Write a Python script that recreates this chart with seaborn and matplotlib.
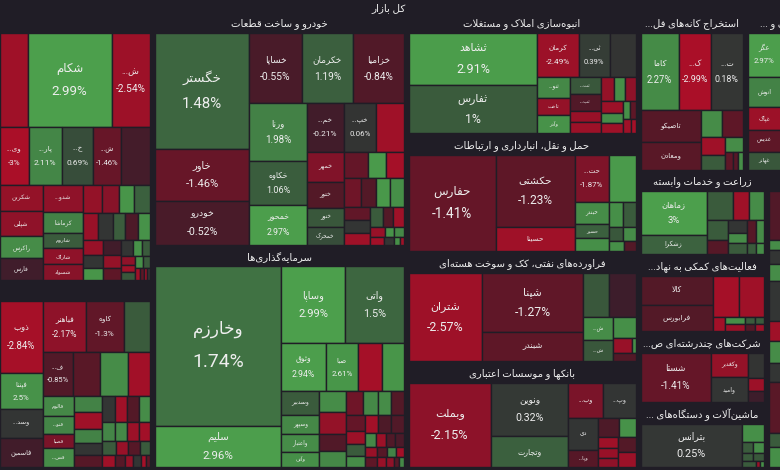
import matplotlib
matplotlib.use("Agg")
import matplotlib.pyplot as plt
from matplotlib.patches import Rectangle
from matplotlib.colors import LinearSegmentedColormap
import numpy as np
import seaborn as sns

BG = "#201d26"
TXT = "#eeeeee"

ROOT_TITLE = "کل بازار"

# sector names, the title as shown on the chart, and the weight of each sector
sectors = ["محصولات شیمیایی", "فلزات اساسی", "خودرو و ساخت قطعات", "سرمایه‌گذاری‌ها",
           "انبوه‌سازی املاک و مستغلات", "حمل و نقل، انبارداری و ارتباطات",
           "فراورده‌های نفتی، کک و سوخت هسته‌ای", "بانکها و موسسات اعتباری",
           "استخراج کانه‌های فلزی", "محصولات غذایی و آشامیدنی", "زراعت و خدمات وابسته",
           "فعالیت‌های کمکی به نهادهای مالی", "شرکت‌های چندرشته‌ای صنعتی",
           "ماشین‌آلات و دستگاه‌های برقی", "سایر"]
sector_titles = ["", "", "خودرو و ساخت قطعات", "سرمایه‌گذاری‌ها",
                 "انبوه‌سازی املاک و مستغلات", "حمل و نقل، انبارداری و ارتباطات",
                 "فراورده‌های نفتی، کک و سوخت هسته‌ای", "بانکها و موسسات اعتباری",
                 "استخراج کانه‌های فل...", "محصولات غذایی و ...", "زراعت و خدمات وابسته",
                 "فعالیت‌های کمکی به نهاد...", "شرکت‌های چندرشته‌ای ص...",
                 "ماشین‌آلات و دستگاه‌های ...", ""]
sector_values = [41752, 29079, 59192, 56277, 28188, 27376, 25520, 24592,
                 16906, 6083, 10816, 9856, 9088, 8320, 5206]

# stocks of every sector, in squarify strips: (strip direction, [(symbol, change %, weight)])
chem_rows = [
    ("h", [("", -2.6, 2576), ("شکام", 2.99, 7636), ("ش...", -2.54, 3496)]),
    ("h", [("وی...", -3.0, 1653), ("پار...", 2.11, 1881), ("خ...", 0.69, 1767),
           ("ش...", -1.46, 1596), ("", -0.35, 1653)]),
    ("v", [("شکربن", -2.3, 1092), ("شپلی", -2.2, 1050), ("راکرس", 2.3, 924), ("فارس", -0.15, 924)]),
    ("v", [("شدو...", -2.2, 1026), ("کرماشا", 2.0, 798), ("شاروم", 1.0, 608),
           ("شاراک", -2.2, 608), ("شسواد", -2.0, 608)]),
    ("h", [("", -2.3, 520), ("", -2.0, 442), ("", 2.6, 416), ("", 1.2, 416)]),
    ("h", [("", -2.4, 405), ("", 0.1, 405), ("", 1.1, 324), ("", -0.7, 351), ("", 2.5, 324)]),
    ("v", [("", -2.4, 285), ("", 0.1, 266), ("", 2.6, 228)]),
    ("v", [("", -0.2, 255), ("", -2.3, 238), ("", -1.2, 204)]),
    ("h", [("", 0.1, 182), ("", 2.5, 140), ("", 1.0, 126)]),
    ("v", [("", -2.2, 108), ("", -2.6, 100), ("", 0.9, 100)]),
    ("h", [("", 2.4, 90), ("", 1.0, 80)]),
    ("h", [("", -2.6, 60), ("", -1.2, 50), ("", -2.8, 40), ("", 0.1, 30)]),
]
metal_rows = [
    ("v", [("ذوب", -2.84, 2982), ("فپنتا", 2.5, 1512), ("وسد...", 0.1, 1176), ("فاسمین", -0.2, 1218)]),
    ("h", [("فباهنر", -2.17, 2107), ("کاوه", -1.3, 1813), ("", 1.0, 1274)]),
    ("h", [("ف...", -0.85, 1290), ("", -1.1, 1161), ("", 2.3, 1161), ("", -2.7, 946)]),
    ("v", [("فالوم", 2.2, 600), ("فنو...", 2.1, 510), ("فصبا", -1.8, 420), ("فس...", 2.3, 570)]),
    ("v", [("", 2.0, 432), ("", -2.6, 459), ("", 2.0, 405), ("", 0.1, 324), ("", -1.0, 324)]),
    ("h", [("", 0.1, 325), ("", -2.6, 300), ("", -0.9, 300), ("", 2.3, 275)]),
    ("h", [("", 2.1, 234), ("", 2.2, 216), ("", -2.5, 216), ("", -2.7, 198)]),
    ("h", [("", 1.0, 182), ("", -2.4, 168), ("", -1.0, 150), ("", 1.0, 140)]),
    ("h", [("", -2.6, 150), ("", -1.0, 120), ("", -2.3, 100), ("", 0.1, 90), ("", -2.8, 60), ("", -1.2, 50)]),
]
auto_rows = [
    ("v", [("خگستر", 1.48, 10810), ("خاور", -1.46, 4888), ("خودرو", -0.52, 4136)]),
    ("h", [("خساپا", -0.55, 3640), ("خکرمان", 1.19, 3570), ("خزامیا", -0.84, 3500)]),
    ("v", [("ورنا", 1.98, 3306), ("خکاوه", 1.06, 2508), ("خمحور", 2.97, 2280)]),
    ("h", [("خم...", -0.21, 1813), ("خپ...", 0.06, 1568), ("", -2.6, 1323)]),
    ("v", [("خمهر", -1.9, 1110), ("ختور", -0.9, 962), ("خنور", 0.9, 703), ("خمحرک", 0.7, 666)]),
    ("h", [("", -1.4, 624), ("", 2.8, 468), ("", -2.8, 442)]),
    ("h", [("", -1.6, 493), ("", -0.9, 435), ("", 2.7, 406), ("", 2.4, 377)]),
    ("v", [("", -1.3, 338), ("", 0.1, 338), ("", -2.6, 312)]),
    ("h", [("", 1.0, 260), ("", -0.9, 200), ("", -2.6, 200)]),
    ("h", [("", -2.4, 150), ("", 2.5, 90), ("", 2.2, 90)]),
    ("h", [("", -2.7, 120), ("", 0.1, 80), ("", 2.4, 50), ("", -2.6, 30)]),
]
invest_rows = [
    ("v", [("وخارزم", 1.74, 19300), ("سلیم", 2.96, 5000)]),
    ("h", [("وساپا", 2.99, 4662), ("واتی", 1.5, 4292)]),
    ("h", [("وثوق", 2.94, 2068), ("صبا", 2.61, 1504), ("", -2.8, 1128), ("", 2.6, 987)]),
    ("v", [("وسدبیر", 1.0, 864), ("وسپهر", 2.2, 684), ("واعتبار", 2.3, 684), ("وآتی", 2.4, 540)]),
    ("v", [("", 2.3, 525), ("", -2.3, 550), ("", -0.8, 450), ("", 2.2, 400)]),
    ("h", [("", -1.6, 396), ("", 2.2, 330), ("", 2.3, 308), ("", -0.9, 286)]),
    ("v", [("", -1.4, 290), ("", -2.5, 250), ("", 1.0, 220), ("", 2.3, 200)]),
    ("h", [("", -2.7, 224), ("", -0.7, 224), ("", -0.8, 224)]),
    ("h", [("", 2.2, 150), ("", -2.5, 130), ("", -0.8, 120), ("", -0.6, 110)]),
    ("h", [("", -2.4, 120), ("", -1.0, 100), ("", 2.0, 90), ("", -2.7, 70)]),
    ("h", [("", -1.2, 110), ("", -2.4, 90), ("", -2.2, 70), ("", -1.0, 50), ("", 2.2, 40)]),
]
build_rows = [
    ("v", [("ثشاهد", 2.91, 6552), ("ثفارس", 1.0, 6048)]),
    ("h", [("کرمان", -2.49, 1806), ("ثی...", 0.39, 1333), ("", 0.05, 1118)]),
    ("v", [("ثنو...", 2.2, 651), ("ثاخت", -2.3, 558), ("وآذر", 2.5, 558)]),
    ("v", [("ثت...", 0.9, 510), ("ثب...", -0.8, 510), ("", -2.4, 360), ("", -2.5, 330)]),
    ("h", [("", -2.3, 294), ("", 2.4, 252), ("", -2.2, 252)]),
    ("v", [("", -2.5, 247), ("", 2.3, 228), ("", -2.6, 209)]),
    ("h", [("", 2.4, 120), ("", -1.2, 100)]),
    ("h", [("", -2.6, 110), ("", -2.8, 60)]),
]
transport_rows = [
    ("v", [("حفارس", -1.41, 8342)]),
    ("v", [("حکشتی", -1.23, 5694), ("حسینا", -2.6, 1872)]),
    ("h", [("حت...", -1.87, 1598), ("", 2.8, 1269)]),
    ("v", [("حبندر", 2.3, 726), ("حسیر", 1.2, 462), ("", 2.4, 429)]),
    ("h", [("", 2.4, 345), ("", 1.0, 299)]),
    ("h", [("", 0.9, 200), ("", 2.3, 180)]),
    ("h", [("", 2.4, 150), ("", -0.9, 120)]),
]
refinery_rows = [
    ("v", [("شتران", -2.57, 6497)]),
    ("v", [("شپنا", -1.27, 6000), ("شبندر", -1.2, 2900)]),
    ("h", [("", 0.9, 1170), ("", -0.05, 1170)]),
    ("v", [("ش...", 2.3, 667), ("ش...", 0.9, 609)]),
    ("h", [("", 2.4, 462)]),
    ("h", [("", -2.4, 285), ("", 2.4, 60)]),
    ("h", [("", -0.9, 184)]),
]
bank_rows = [
    ("v", [("وبملت", -2.15, 6970)]),
    ("v", [("ونوین", 0.32, 4104), ("وتجارت", 1.2, 2356)]),
    ("h", [("وب...", -1.8, 1260), ("وپ...", 0.1, 1152)]),
    ("v", [("دی", 0.1, 960), ("وپا...", -1.0, 510)]),
    ("h", [("", -0.7, 399), ("", 2.5, 304)]),
    ("v", [("", -2.6, 220), ("", -2.4, 200), ("", -2.2, 180)]),
    ("v", [("", -0.9, 255), ("", -2.5, 255)]),
]
mining_rows = [
    ("h", [("کاما", 2.27, 2926), ("ک...", -2.99, 2464), ("ت...", 0.18, 2387)]),
    ("v", [("تاصیکو", -1.0, 1920), ("ومعادن", -1.1, 1620)]),
    ("h", [("", 2.3, 567), ("", -1.2, 540)]),
    ("v", [("", -2.6, 432), ("", 1.0, 336)]),
    ("h", [("", 2.3, 255)]),
    ("h", [("", -1.2, 136), ("", -1.0, 85), ("", 2.4, 68)]),
]
food_rows = [
    ("h", [("عگز", 2.97, 1452)]),
    ("h", [("انوش", 2.0, 990)]),
    ("h", [("غپاک", -2.5, 759)]),
    ("h", [("غدیس", -1.2, 726)]),
    ("h", [("غهانر", 0.9, 594)]),
]
farm_rows = [
    ("v", [("زماهان", 3.0, 2795), ("زشکرا", 1.3, 1235)]),
    ("h", [("", 1.0, 728), ("", -2.6, 448), ("", 2.3, 420)]),
    ("v", [("", 1.0, 420), ("", -1.0, 294)]),
    ("v", [("", 0.1, 234), ("", 2.3, 180), ("", 1.0, 198)]),
    ("h", [("", -1.0, 200), ("", 2.3, 160)]),
    ("h", [("", 1.0, 100), ("", 2.3, 80)]),
]
support_rows = [
    ("v", [("کالا", -0.9, 2088), ("فرابورس", -0.9, 1872)]),
    ("h", [("", -2.8, 1066), ("", -2.6, 984)]),
    ("v", [("", -2.7, 168)]),
    ("h", [("", 2.4, 140), ("", 1.0, 70), ("", 1.0, 56)]),
    ("h", [("", -2.5, 140), ("", -1.0, 70), ("", -2.6, 56)]),
]
multi_rows = [
    ("v", [("شستا", -1.41, 3450)]),
    ("v", [("وکغدیر", -2.3, 925), ("وامید", 0.1, 925)]),
    ("h", [("", 0.05, 390)]),
    ("h", [("", -2.5, 195)]),
    ("h", [("", -0.05, 165)]),
]
machine_rows = [
    ("v", [("بترانس", 0.25, 4444)]),
    ("h", [("", 2.4, 399)]),
    ("h", [("", 1.0, 121), ("", 2.3, 110)]),
    ("h", [("", 1.0, 88), ("", 0.9, 80)]),
    ("h", [("", 1.0, 90), ("", -2.5, 30), ("", 2.4, 20)]),
]
other_rows = [
    ("h", [("", -0.8, 49)]), ("h", [("", 2.3, 10)]), ("h", [("", 0.1, 13)]),
    ("h", [("", 2.3, 17)]), ("h", [("", 0.1, 40)]), ("h", [("", -2.6, 20)]),
    ("h", [("", 2.3, 22)]), ("h", [("", 0.1, 19)]), ("h", [("", -1.1, 50)]),
    ("h", [("", 1.0, 14)]), ("h", [("", 2.4, 20)]),
]
sector_rows = [chem_rows, metal_rows, auto_rows, invest_rows, build_rows, transport_rows,
               refinery_rows, bank_rows, mining_rows, food_rows, farm_rows, support_rows,
               multi_rows, machine_rows, other_rows]

# how the sectors sit in the visible window (h = side by side, v = stacked)
layout_tree = ("h", [
    ("v", [0, 1]),
    ("v", [2, 3]),
    ("v", [4, 5, 6, 7]),
    ("v", [("h", [8, 9]), ("h", [("v", [10, 11, 12, 13]), 14])]),
])
# the map is panned: sector 9 runs past the right edge, so its title is cut
CLIPPED_RIGHT = {9}

# colour scale for daily change
color_stops = [(-3.0, "#aa0f28"), (-2.5, "#9c1128"), (-2.0, "#861329"), (-1.5, "#681628"),
               (-1.0, "#561827"), (-0.5, "#481b29"), (-0.05, "#3d1d2b"), (0.0, "#333333"),
               (0.3, "#343835"), (0.7, "#374d3a"), (1.0, "#3a5b3c"), (1.6, "#3e6841"),
               (2.0, "#438246"), (2.6, "#489549"), (3.0, "#4c9f4c")]


# ---- Persian shaping (matplotlib has no RTL text layout) ----
_forms = {
    "ا": "FE8D FE8E", "آ": "FE81 FE82", "أ": "FE83 FE84", "د": "FEA9 FEAA", "ذ": "FEAB FEAC",
    "ر": "FEAD FEAE", "ز": "FEAF FEB0", "ژ": "FB8A FB8B", "و": "FEED FEEE",
    "ب": "FE8F FE90 FE91 FE92", "پ": "FB56 FB57 FB58 FB59", "ت": "FE95 FE96 FE97 FE98",
    "ث": "FE99 FE9A FE9B FE9C", "ج": "FE9D FE9E FE9F FEA0", "چ": "FB7A FB7B FB7C FB7D",
    "ح": "FEA1 FEA2 FEA3 FEA4", "خ": "FEA5 FEA6 FEA7 FEA8", "س": "FEB1 FEB2 FEB3 FEB4",
    "ش": "FEB5 FEB6 FEB7 FEB8", "ص": "FEB9 FEBA FEBB FEBC", "ض": "FEBD FEBE FEBF FEC0",
    "ط": "FEC1 FEC2 FEC3 FEC4", "ظ": "FEC5 FEC6 FEC7 FEC8", "ع": "FEC9 FECA FECB FECC",
    "غ": "FECD FECE FECF FED0", "ف": "FED1 FED2 FED3 FED4", "ق": "FED5 FED6 FED7 FED8",
    "ک": "FB8E FB8F FB90 FB91", "گ": "FB92 FB93 FB94 FB95", "ل": "FEDD FEDE FEDF FEE0",
    "م": "FEE1 FEE2 FEE3 FEE4", "ن": "FEE5 FEE6 FEE7 FEE8", "ه": "FEE9 FEEA FEEB FEEC",
    "ی": "FBFC FBFD FBFE FBFF", "ئ": "FE89 FE8A FE8B FE8C",
}
FORMS = {k: [chr(int(c, 16)) for c in v.split()] for k, v in _forms.items()}
LAM_ALEF = {"ا": ("\uFEFB", "\uFEFC"), "آ": ("\uFEF5", "\uFEF6"), "أ": ("\uFEF7", "\uFEF8")}


def fa(text):
    res = []
    i, n = 0, len(text)
    while i < n:
        c = text[i]
        if c not in FORMS:
            if c != "\u200c":
                res.append(c)
            i += 1
            continue
        prev = text[i - 1] if i > 0 else ""
        join_prev = prev in FORMS and len(FORMS[prev]) == 4
        if c == "ل" and i + 1 < n and text[i + 1] in LAM_ALEF:
            iso, fin = LAM_ALEF[text[i + 1]]
            res.append(fin if join_prev else iso)
            i += 2
            continue
        nxt = text[i + 1] if i + 1 < n else ""
        join_next = len(FORMS[c]) == 4 and nxt in FORMS
        f = FORMS[c]
        if join_prev and join_next:
            res.append(f[3])
        elif join_prev:
            res.append(f[1])
        elif join_next:
            res.append(f[2])
        else:
            res.append(f[0])
        i += 1
    return "".join(reversed(res))


# ---- layout ----
def tree_value(node):
    if isinstance(node, int):
        return sector_values[node]
    return sum(tree_value(k) for k in node[1])


def split_tree(node, x, y, w, h, out):
    if isinstance(node, int):
        out[node] = (x, y, w, h)
        return
    orient, kids = node
    vals = [tree_value(k) for k in kids]
    tot = sum(vals)
    for k, v in zip(kids, vals):
        if orient == "h":
            kw = w * v / tot
            split_tree(k, x, y, kw, h, out)
            x += kw
        else:
            kh = h * v / tot
            split_tree(k, x, y, w, kh, out)
            y += kh


def strip_layout(rows, x, y, w, h):
    total = sum(v for _, items in rows for _, _, v in items)
    k = w * h / total
    tiles = []
    for i, (orient, items) in enumerate(rows):
        rv = sum(v for _, _, v in items)
        last = i == len(rows) - 1
        if orient == "h":
            t = h if last else rv * k / w
            cx = x
            for name, pct, v in items:
                iw = w * v / rv
                tiles.append((cx, y, iw, t, name, pct))
                cx += iw
            y += t
            h -= t
        else:
            t = w if last else rv * k / h
            cy = y
            for name, pct, v in items:
                ih = h * v / rv
                tiles.append((x, cy, t, ih, name, pct))
                cy += ih
            x += t
            w -= t
    return tiles


def pct_text(p):
    return ("%g" % p) + "%"


sns.set_theme(style="dark", rc={"figure.facecolor": BG, "axes.facecolor": BG})
plt.rcParams["font.family"] = ["Roboto", "DejaVu Sans"]

lo, hi = color_stops[0][0], color_stops[-1][0]
cmap = LinearSegmentedColormap.from_list(
    "chg", [((v - lo) / (hi - lo), c) for v, c in color_stops])

fig = plt.figure(figsize=(7.8, 4.7), dpi=100)
ax = fig.add_axes([0, 0, 1, 1])
ax.set_xlim(0, 780)
ax.set_ylim(470, 0)
ax.axis("off")

rects = {}
split_tree(layout_tree, -3, 14, 786.5, 455.5, rects)

PX = 100 / 72.0  # pixels per point

for si, (x0, y0, w0, h0) in rects.items():
    ix, iy, iw, ih = x0 + 2.5, y0 + 19, w0 - 5, h0 - 21.5
    for (x, y, w, h, name, pct) in strip_layout(sector_rows[si], ix, iy, iw, ih):
        ax.add_patch(Rectangle((x, y), w, h, facecolor=cmap((np.clip(pct, lo, hi) - lo) / (hi - lo)),
                               edgecolor=BG, linewidth=1.0))
        if not name or w < 20 or h < 13:
            continue
        fs = min(14.5, 2.5 + 0.08 * np.sqrt(w * h))
        show_pct = h >= 36
        ptxt = pct_text(pct)
        if show_pct:
            fs = min(fs, (w - 3) / (0.55 * len(ptxt) * PX))
        fs_name = min(fs * 0.88, (w - 4) / (0.6 * len(name) * PX))
        cx, cy = x + w / 2, y + h / 2
        if show_pct:
            gap = fs * PX * 0.85
            ax.text(cx, cy - gap, fa(name), fontsize=fs_name, color=TXT, ha="center", va="center", clip_on=True)
            ax.text(cx, cy + gap, ptxt, fontsize=fs, color=TXT, ha="center", va="center", clip_on=True)
        else:
            ax.text(cx, cy, fa(name), fontsize=min(fs_name, h * 0.5 / PX), color=TXT,
                    ha="center", va="center", clip_on=True)
    title = sector_titles[si]
    if title:
        if si in CLIPPED_RIGHT:
            ax.text(ix + 12, y0 + 10, fa(title), fontsize=7.3, color=TXT, ha="left",
                    va="center", clip_on=True)
        else:
            ax.text(x0 + w0 / 2, y0 + 10, fa(title), fontsize=7.3, color=TXT, ha="center",
                    va="center", clip_on=True)

ax.text(389, 8, fa(ROOT_TITLE), fontsize=7.5, color=TXT, ha="center", va="center")

fig.savefig("out.png", dpi=100, facecolor=BG)
